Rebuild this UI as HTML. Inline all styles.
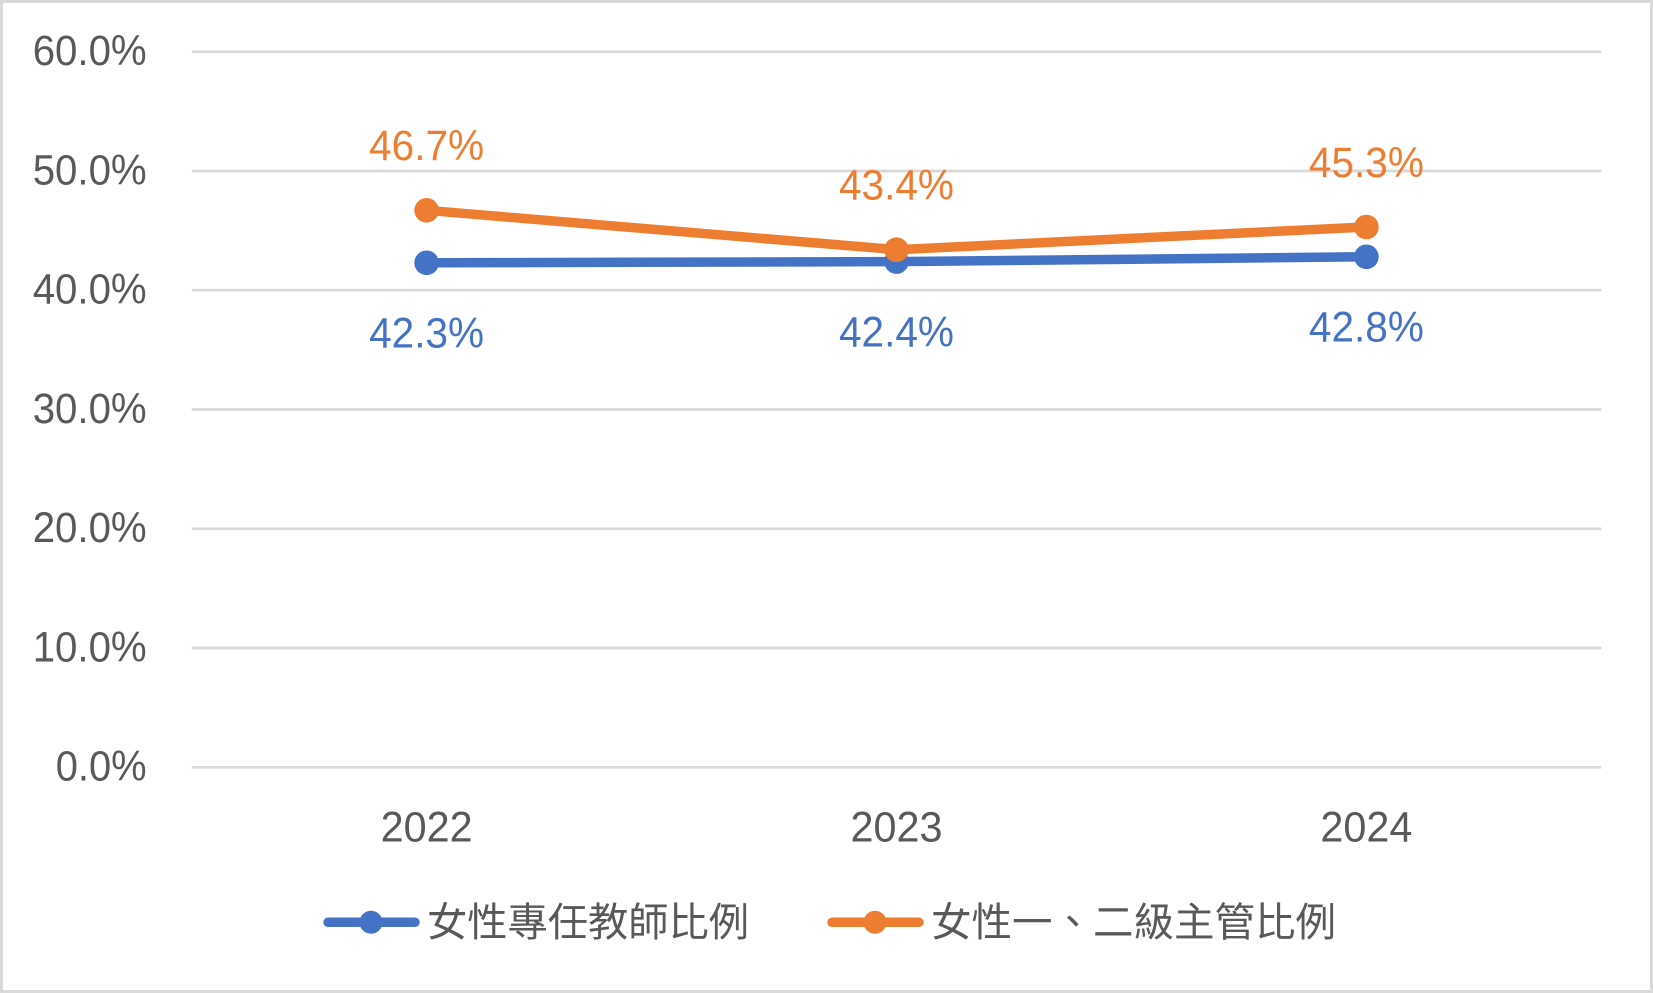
<!DOCTYPE html>
<html>
<head>
<meta charset="utf-8">
<style>
html,body{margin:0;padding:0;background:#fff;}
svg{display:block;}
.ax{font-family:"Liberation Sans","Noto Sans CJK TC",sans-serif;font-size:43px;fill:#595959;}
.lg{font-family:"Liberation Sans","Noto Sans CJK TC",sans-serif;font-size:40px;fill:#595959;}
.bl{font-family:"Liberation Sans",sans-serif;font-size:43px;fill:#4472C4;}
.or{font-family:"Liberation Sans",sans-serif;font-size:43px;fill:#ED7D31;}
</style>
</head>
<body>
<svg width="1653" height="993" viewBox="0 0 1653 993" xmlns="http://www.w3.org/2000/svg">
  <rect x="0" y="0" width="1653" height="993" fill="#fff"/>
  <rect x="1.5" y="1.5" width="1650" height="990" fill="none" stroke="#D9D9D9" stroke-width="3"/>

  <!-- gridlines -->
  <g stroke="#D9D9D9" stroke-width="2.7">
    <line x1="191.7" y1="51.7" x2="1601.3" y2="51.7"/>
    <line x1="191.7" y1="171.0" x2="1601.3" y2="171.0"/>
    <line x1="191.7" y1="290.2" x2="1601.3" y2="290.2"/>
    <line x1="191.7" y1="409.5" x2="1601.3" y2="409.5"/>
    <line x1="191.7" y1="528.8" x2="1601.3" y2="528.8"/>
    <line x1="191.7" y1="648.0" x2="1601.3" y2="648.0"/>
    <line x1="191.7" y1="767.3" x2="1601.3" y2="767.3"/>
  </g>

  <!-- y labels -->
  <g class="ax" text-anchor="end">
    <text x="146.7" y="65.0" textLength="114" lengthAdjust="spacingAndGlyphs">60.0%</text>
    <text x="146.7" y="184.3" textLength="114" lengthAdjust="spacingAndGlyphs">50.0%</text>
    <text x="146.7" y="303.5" textLength="114" lengthAdjust="spacingAndGlyphs">40.0%</text>
    <text x="146.7" y="422.8" textLength="114" lengthAdjust="spacingAndGlyphs">30.0%</text>
    <text x="146.7" y="542.1" textLength="114" lengthAdjust="spacingAndGlyphs">20.0%</text>
    <text x="146.7" y="661.4" textLength="114" lengthAdjust="spacingAndGlyphs">10.0%</text>
    <text x="146.7" y="780.7" textLength="91" lengthAdjust="spacingAndGlyphs">0.0%</text>
  </g>

  <!-- x labels -->
  <g class="ax" text-anchor="middle">
    <text x="426.6" y="841.5" textLength="92" lengthAdjust="spacingAndGlyphs">2022</text>
    <text x="896.5" y="841.5" textLength="92" lengthAdjust="spacingAndGlyphs">2023</text>
    <text x="1366.4" y="841.5" textLength="92" lengthAdjust="spacingAndGlyphs">2024</text>
  </g>

  <!-- series: blue -->
  <polyline points="426.6,262.8 896.5,261.6 1366.4,256.8" fill="none" stroke="#4472C4" stroke-width="9.5" stroke-linejoin="round" stroke-linecap="round"/>
  <g fill="#4472C4">
    <circle cx="426.6" cy="262.8" r="12.3"/>
    <circle cx="896.5" cy="261.6" r="12.3"/>
    <circle cx="1366.4" cy="256.8" r="12.3"/>
  </g>

  <!-- series: orange -->
  <polyline points="426.6,210.3 896.5,249.7 1366.4,227.0" fill="none" stroke="#ED7D31" stroke-width="9.5" stroke-linejoin="round" stroke-linecap="round"/>
  <g fill="#ED7D31">
    <circle cx="426.6" cy="210.3" r="12.3"/>
    <circle cx="896.5" cy="249.7" r="12.3"/>
    <circle cx="1366.4" cy="227.0" r="12.3"/>
  </g>

  <!-- data labels -->
  <g class="or" text-anchor="middle">
    <text x="426.6" y="160.0" textLength="115" lengthAdjust="spacingAndGlyphs">46.7%</text>
    <text x="896.5" y="199.5" textLength="115" lengthAdjust="spacingAndGlyphs">43.4%</text>
    <text x="1366.4" y="176.8" textLength="115" lengthAdjust="spacingAndGlyphs">45.3%</text>
  </g>
  <g class="bl" text-anchor="middle">
    <text x="426.6" y="347.3" textLength="115" lengthAdjust="spacingAndGlyphs">42.3%</text>
    <text x="896.5" y="346.6" textLength="115" lengthAdjust="spacingAndGlyphs">42.4%</text>
    <text x="1366.4" y="341.6" textLength="115" lengthAdjust="spacingAndGlyphs">42.8%</text>
  </g>

  <!-- legend -->
  <line x1="328" y1="922.3" x2="415" y2="922.3" stroke="#4472C4" stroke-width="9.5" stroke-linecap="round"/>
  <circle cx="371" cy="922.3" r="11.5" fill="#4472C4"/>
  <text class="lg" x="427" y="936" textLength="322" lengthAdjust="spacingAndGlyphs">女性專任教師比例</text>

  <line x1="832" y1="922.3" x2="919" y2="922.3" stroke="#ED7D31" stroke-width="9.5" stroke-linecap="round"/>
  <circle cx="875" cy="922.3" r="11.5" fill="#ED7D31"/>
  <text class="lg" x="931" y="936" textLength="405" lengthAdjust="spacingAndGlyphs">女性一、二級主管比例</text>
</svg>
</body>
</html>
